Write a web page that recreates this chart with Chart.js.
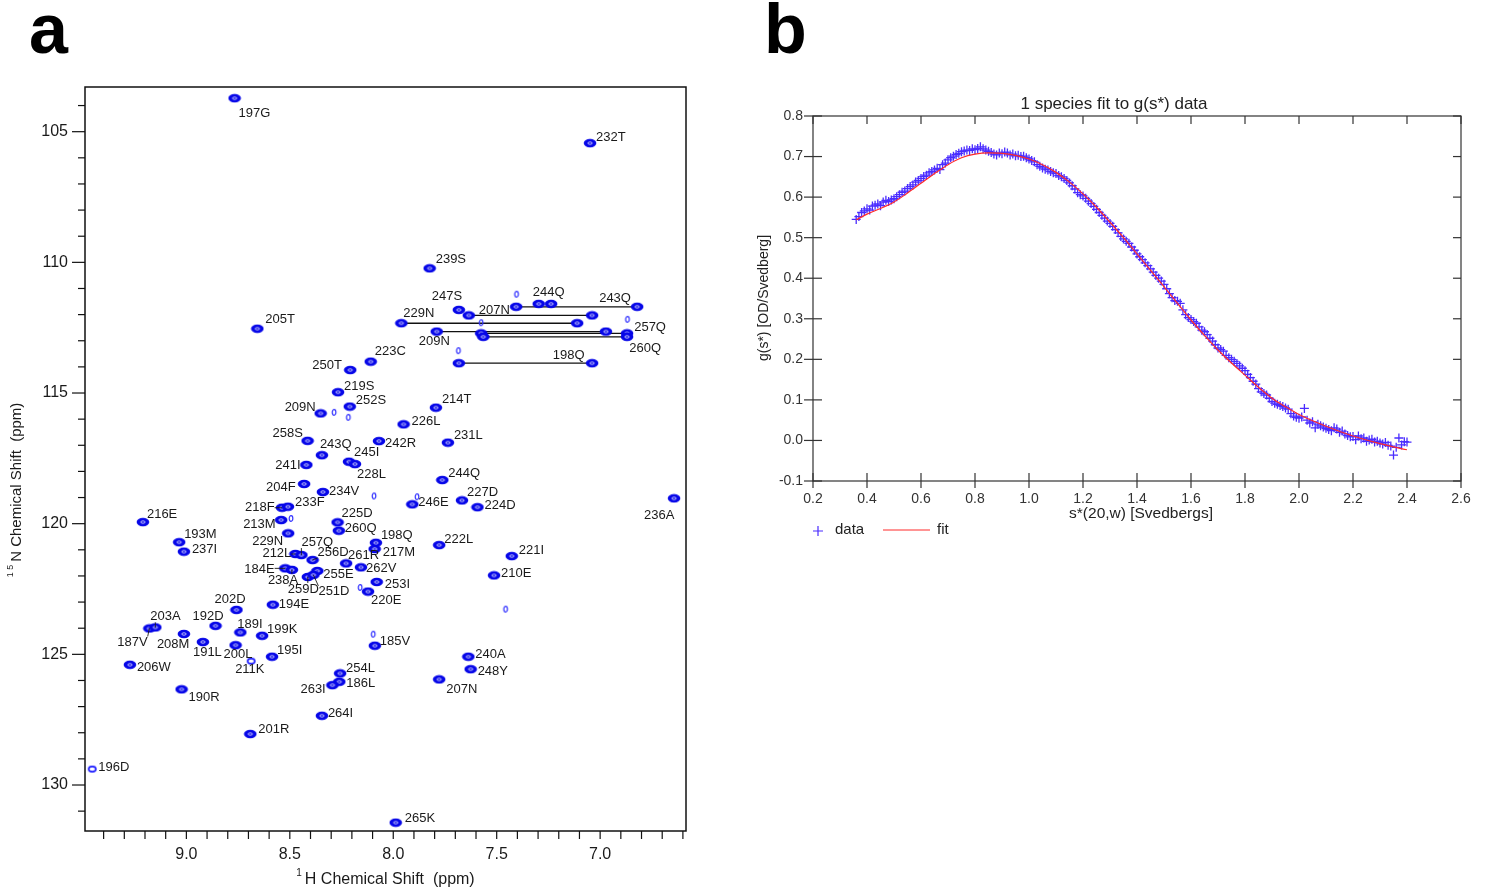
<!DOCTYPE html>
<html>
<head>
<meta charset="utf-8">
<script src="https://cdn.jsdelivr.net/npm/chart.js@4.4.1/dist/chart.umd.min.js"></script>
<style>
  html, body { margin: 0; padding: 0; background: #fff; }
  #wrap { position: relative; width: 1489px; height: 895px; overflow: hidden; }
  canvas { position: absolute; top: 0; }
  #nmr { left: 0; }
  #sed { left: 720px; }
</style>
</head>
<body>
<div id="wrap">
  <canvas id="nmr" width="720" height="895"></canvas>
  <canvas id="sed" width="769" height="895"></canvas>
</div>
<script>
var FONT = '"Liberation Sans", Arial, Helvetica, sans-serif';

// ---------- panel a : HSQC peaks (1H ppm, 15N ppm) ----------
var peakNames = ['197G','232T','239S','205T','247S','223C','250T','219S','252S','209N',
  '214T','226L','258S','242R','231L','243Q','245I','228L','241I','244Q',
  '204F','234V','246E','227D','224D','236A','218F','233F','216E','213M',
  '225D','260Q','193M','237I','229N','198Q','217M','222L','212L','257Q',
  '256D','261R','221I','262V','184E','238A','255E','259D','251D','210E',
  '253I','220E','194E','202D','187V','203A','192D','208M','189I','199K',
  '191L','200L','195I','211K','185V','206W','240A','248Y','254L','186L',
  '263I','207N','190R','264I','201R','196D','265K'];
var peakH = [8.767,7.049,7.824,8.657,7.683,8.109,8.208,8.267,8.210,8.351,
  7.794,7.950,8.414,8.069,7.736,8.345,8.214,8.185,8.420,7.763,
  8.431,8.340,7.908,7.668,7.593,6.643,8.538,8.509,9.210,8.542,
  8.269,8.263,9.035,9.012,8.508,8.084,8.090,7.778,8.473,8.444,
  8.390,8.228,7.427,8.156,8.522,8.490,8.367,8.413,8.386,7.513,
  8.080,8.122,8.582,8.758,9.179,9.150,8.859,9.012,8.739,8.634,
  8.920,8.762,8.586,8.687,8.089,9.273,7.637,7.626,8.257,8.261,
  8.294,7.778,9.023,8.345,8.691,9.455,7.988];
var peakN = [103.72,105.44,110.23,112.54,111.82,113.80,114.12,114.97,115.52,115.78,
  115.56,116.20,116.83,116.84,116.90,117.38,117.63,117.72,117.75,118.33,
  118.48,118.79,119.26,119.11,119.37,119.03,119.39,119.35,119.94,119.86,
  119.95,120.27,120.71,121.07,120.37,120.73,120.97,120.82,121.16,121.20,
  121.39,121.52,121.24,121.67,121.71,121.77,121.81,122.04,121.96,121.98,
  122.23,122.60,123.10,123.30,124.01,123.97,123.91,124.22,124.16,124.29,
  124.53,124.65,125.09,125.26,124.67,125.40,125.09,125.57,125.73,126.05,
  126.18,125.96,126.34,127.35,128.05,129.39,131.44];
var weakPeaks = ['196D', '211K'];

// side-chain NH2 pairs (same 15N, two 1H)
var scNames = ['244Q','243Q','207N','229N','209N','257Q','260Q','198Q'];
var scN  = [111.59, 111.70, 112.03, 112.33, 112.65, 112.72, 112.85, 113.86];
var scH1 = [7.297, 7.406, 7.635, 7.961, 7.790, 7.575, 7.565, 7.683];
var scH2 = [7.237, 6.821, 7.039, 7.111, 6.972, 6.870, 6.870, 7.039];
var scNoLine = ['244Q'];

// weak unassigned peaks
var extraH = [7.404, 7.575, 6.868, 7.685, 8.286, 8.217, 8.093, 7.885, 8.494, 7.457, 8.097, 8.160];
var extraN = [111.22, 112.31, 112.18, 113.38, 115.74, 115.93, 118.94, 118.97, 119.80, 123.27, 124.23, 122.44];

var xMajor = [9.0, 8.5, 8.0, 7.5, 7.0];
var yMajor = [105, 110, 115, 120, 125, 130];

// label placement, pixels from the peak centre
var labelDx = [4,6,6,8,-27,4,-38,6,6,-36, 6,8,-35,6,6,-2,5,2,-31,6,
  -38,6,6,5,7,-30,-37,7,4,-38, 4,6,5,8,-36,5,8,5,-33,0,
  5,2,7,5,-41,-24,6,-20,5,7, 8,3,6,-22,-32,-5,-23,-27,-3,5,
  -10,-12,5,-16,5,7,7,7,6,7, -32,7,7,6,8,6,9];
var labelDy = [15,-6,-9,-9,-13,-10,-5,-6,-6,-6, -8,-3,-7,2,-7,-11,-9,10,1,-7,
  3,-1,-2,-8,-2,17,0,-4,-8,4, -9,-2,-8,-2,8,-7,3,-6,-1,-13,
  -8,-8,-6,1,1,10,3,12,17,-2, 2,9,0,-10,14,-11,-9,10,-8,-6,
  10,9,-6,8,-4,3,-2,2,-5,2, 4,10,8,-2,-5,-2,-4];
var scLabelDx = [-6, 83, 10, 2, -18, 153, 146, 94];
var scLabelDy = [-11, -8, -5, -10, 10, -6, 12, -8];
var leaderNames = ['218F','212L','184E','187V','203A','257Q','256D','259D','251D','238A'];

// ---------- panel b : g(s*) data and fit ----------
var sData = [0.36,0.37,0.38,0.39,
  0.40,0.41,0.42,0.43,0.44,0.45,0.46,0.47,0.48,0.49,
  0.50,0.51,0.52,0.53,0.54,0.55,0.56,0.57,0.58,0.59,
  0.60,0.61,0.62,0.63,0.64,0.65,0.66,0.67,0.68,0.69,
  0.70,0.71,0.72,0.73,0.74,0.75,0.76,0.77,0.78,0.79,
  0.80,0.81,0.82,0.83,0.84,0.85,0.86,0.87,0.88,0.89,
  0.90,0.91,0.92,0.93,0.94,0.95,0.96,0.97,0.98,0.99,
  1.00,1.01,1.02,1.03,1.04,1.05,1.06,1.07,1.08,1.09,
  1.10,1.11,1.12,1.13,1.14,1.15,1.16,1.17,1.18,1.19,
  1.20,1.21,1.22,1.23,1.24,1.25,1.26,1.27,1.28,1.29,
  1.30,1.31,1.32,1.33,1.34,1.35,1.36,1.37,1.38,1.39,
  1.40,1.41,1.42,1.43,1.44,1.45,1.46,1.47,1.48,1.49,
  1.50,1.51,1.52,1.53,1.54,1.55,1.56,1.57,1.58,1.59,
  1.60,1.61,1.62,1.63,1.64,1.65,1.66,1.67,1.68,1.69,
  1.70,1.71,1.72,1.73,1.74,1.75,1.76,1.77,1.78,1.79,
  1.80,1.81,1.82,1.83,1.84,1.85,1.86,1.87,1.88,1.89,
  1.90,1.91,1.92,1.93,1.94,1.95,1.96,1.97,1.98,1.99,
  2.00,2.01,2.02,2.03,2.04,2.05,2.06,2.07,2.08,2.09,
  2.10,2.11,2.12,2.13,2.14,2.15,2.16,2.17,2.18,2.19,
  2.20,2.21,2.22,2.23,2.24,2.25,2.26,2.27,2.28,2.29,
  2.30,2.31,2.32,2.33,2.34,2.35,2.36,2.37,2.38,2.39,2.40];
var gData = [0.545,0.552,0.562,0.566,
  0.571,0.568,0.578,0.580,0.583,0.579,0.588,0.592,0.589,0.593,
  0.596,0.601,0.606,0.612,0.615,0.621,0.626,0.630,0.637,0.641,
  0.646,0.651,0.654,0.660,0.663,0.667,0.671,0.668,0.680,0.684,
  0.692,0.697,0.701,0.705,0.708,0.712,0.714,0.716,0.715,0.719,
  0.717,0.720,0.724,0.719,0.716,0.713,0.710,0.706,0.704,0.709,
  0.707,0.711,0.709,0.704,0.706,0.702,0.703,0.700,0.701,0.697,
  0.694,0.690,0.687,0.680,0.676,0.672,0.669,0.667,0.663,0.660,
  0.658,0.653,0.650,0.646,0.641,0.635,0.628,0.620,0.611,0.606,
  0.603,0.597,0.590,0.584,0.577,0.570,0.562,0.555,0.548,0.541,
  0.535,0.528,0.520,0.512,0.503,0.497,0.491,0.486,0.477,0.469,
  0.460,0.453,0.446,0.438,0.431,0.423,0.415,0.407,0.400,0.393,
  0.385,0.374,0.362,0.352,0.345,0.343,0.338,0.322,0.310,0.303,
  0.298,0.293,0.289,0.280,0.272,0.268,0.261,0.252,0.245,0.236,
  0.228,0.224,0.220,0.210,0.204,0.200,0.195,0.190,0.184,0.178,
  0.172,0.163,0.155,0.146,0.139,0.128,0.120,0.116,0.112,0.104,
  0.096,0.092,0.089,0.086,0.084,0.080,0.077,0.066,0.060,0.057,
  0.055,0.058,0.079,0.050,0.043,0.046,0.031,0.040,0.036,0.033,
  0.030,0.027,0.024,0.031,0.028,0.020,0.023,0.016,0.012,0.009,
  0.010,0.002,0.011,0.004,0.006,-0.002,0.001,0.003,-0.004,-0.002,
  -0.006,-0.009,-0.005,-0.012,-0.014,-0.036,-0.017,0.006,-0.011,-0.003,-0.004];
var sFit = [0.36,0.40,0.45,0.50,0.55,0.60,0.65,0.70,0.75,0.80,0.85,0.90,0.95,1.00,1.05,1.10,1.15,1.20,1.25,1.30,
  1.35,1.40,1.45,1.50,1.55,1.60,1.65,1.70,1.75,1.80,1.85,1.90,1.95,2.00,2.10,2.20,2.30,2.40];
var gFit = [0.544,0.558,0.572,0.588,0.610,0.634,0.658,0.680,0.697,0.706,0.709,0.708,0.703,0.694,0.680,0.661,0.637,0.608,0.575,0.538,
  0.500,0.460,0.420,0.379,0.338,0.297,0.259,0.223,0.191,0.161,0.131,0.104,0.083,0.064,0.035,0.011,-0.008,-0.023];
var bTicksX = [0.2,0.4,0.6,0.8,1.0,1.2,1.4,1.6,1.8,2.0,2.2,2.4,2.6];
var bTicksY = [-0.1,0.0,0.1,0.2,0.3,0.4,0.5,0.6,0.7,0.8];

// ---------- peak glyphs ----------
function makeGlyph(w, h, draw) {
  var c = document.createElement('canvas');
  c.width = w; c.height = h;
  draw(c.getContext('2d'));
  return c;
}
var peakImg = makeGlyph(14, 10, function(g) {
  g.fillStyle = '#0606e8';
  g.beginPath(); g.ellipse(7, 5, 6.3, 4.2, 0, 0, Math.PI * 2); g.fill();
  g.strokeStyle = 'rgba(255,255,255,0.9)'; g.lineWidth = 0.8;
  g.beginPath(); g.ellipse(7, 5, 2.2, 1.2, 0, 0, Math.PI * 2); g.stroke();
});
var ringImg = makeGlyph(11, 9, function(g) {
  g.strokeStyle = '#1a1aff'; g.lineWidth = 1.6;
  g.beginPath(); g.ellipse(5.5, 4.5, 3.6, 2.6, 0, 0, Math.PI * 2); g.stroke();
});
var smallImg = makeGlyph(8, 9, function(g) {
  g.strokeStyle = '#3030ff'; g.lineWidth = 1.2;
  g.beginPath(); g.ellipse(4, 4.5, 1.8, 2.8, 0, 0, Math.PI * 2); g.stroke();
});

function near(list, v) {
  return list.some(function(m) { return Math.abs(m - v) < 1e-6; });
}

function supTitle(ctx, sup, main, cx, cy, mainPx, supPx) {
  ctx.font = mainPx + 'px ' + FONT;
  var wm = ctx.measureText(main).width;
  ctx.font = supPx + 'px ' + FONT;
  var ws = ctx.measureText(sup).width;
  var x0 = cx - (ws + 3 + wm) / 2;
  ctx.textAlign = 'left';
  ctx.textBaseline = 'middle';
  ctx.fillText(sup, x0, cy - mainPx * 0.4);
  ctx.font = mainPx + 'px ' + FONT;
  ctx.fillText(main, x0 + ws + 3, cy);
}

// labels, frame and ticks of panel a
var nmrDecor = {
  id: 'nmrDecor',
  afterDatasetsDraw: function(chart) {
    var ctx = chart.ctx, xs = chart.scales.x, ys = chart.scales.y;
    ctx.save();
    ctx.font = '13px ' + FONT;
    ctx.fillStyle = '#1a1a1a';
    ctx.strokeStyle = '#1a1a1a';
    ctx.lineWidth = 0.9;
    ctx.textAlign = 'left';
    ctx.textBaseline = 'middle';
    for (var i = 0; i < peakNames.length; i++) {
      var px = xs.getPixelForValue(peakH[i]);
      var py = ys.getPixelForValue(peakN[i]);
      var lx = px + labelDx[i], ly = py + labelDy[i];
      ctx.fillText(peakNames[i], lx, ly);
      if (leaderNames.indexOf(peakNames[i]) >= 0) {
        var w = ctx.measureText(peakNames[i]).width;
        var cx = Math.min(Math.max(px, lx), lx + w);
        var cy = Math.min(Math.max(py, ly - 6), ly + 6);
        ctx.beginPath(); ctx.moveTo(cx, cy); ctx.lineTo(px, py); ctx.stroke();
      }
    }
    for (var j = 0; j < scNames.length; j++) {
      var qx = xs.getPixelForValue(scH1[j]);
      var qy = ys.getPixelForValue(scN[j]);
      ctx.fillText(scNames[j], qx + scLabelDx[j], qy + scLabelDy[j]);
    }
    ctx.restore();
  },
  afterDraw: function(chart) {
    var ctx = chart.ctx, a = chart.chartArea, xs = chart.scales.x, ys = chart.scales.y;
    ctx.save();
    ctx.strokeStyle = '#111';
    ctx.lineWidth = 1.5;
    ctx.strokeRect(a.left, a.top, a.right - a.left, a.bottom - a.top);
    ctx.lineWidth = 1.2;
    xs.ticks.forEach(function(t) {
      var p = xs.getPixelForValue(t.value);
      ctx.beginPath(); ctx.moveTo(p, a.bottom); ctx.lineTo(p, a.bottom + 8); ctx.stroke();
    });
    ys.ticks.forEach(function(t) {
      var p = ys.getPixelForValue(t.value);
      var len = near(yMajor, t.value) ? 13 : 7;
      ctx.beginPath(); ctx.moveTo(a.left, p); ctx.lineTo(a.left - len, p); ctx.stroke();
    });
    ctx.fillStyle = '#1a1a1a';
    supTitle(ctx, '1', 'H Chemical Shift  (ppm)', (a.left + a.right) / 2, 880, 16, 10);
    ctx.save();
    ctx.translate(17, 490);
    ctx.rotate(-Math.PI / 2);
    supTitle(ctx, '1 5', 'N Chemical Shift  (ppm)', 0, 0, 15, 9);
    ctx.restore();
    ctx.fillStyle = '#000';
    ctx.font = 'bold 70px ' + FONT;
    ctx.textAlign = 'left';
    ctx.textBaseline = 'alphabetic';
    ctx.fillText('a', 29, 53);
    ctx.restore();
  }
};

var nmrSets = [];
scNames.forEach(function(n, j) {
  if (scNoLine.indexOf(n) >= 0) return;
  nmrSets.push({
    data: [{ x: scH1[j], y: scN[j] }, { x: scH2[j], y: scN[j] }],
    showLine: true, borderColor: '#111', borderWidth: 1.3,
    pointRadius: 0, order: 3
  });
});
nmrSets.push({
  data: scNames.map(function(n, j) { return { x: scH1[j], y: scN[j] }; })
    .concat(scNames.map(function(n, j) { return { x: scH2[j], y: scN[j] }; })),
  pointStyle: peakImg, pointRadius: 4, order: 1
});
nmrSets.push({
  data: extraH.map(function(h, k) { return { x: h, y: extraN[k] }; }),
  pointStyle: smallImg, pointRadius: 3, order: 2
});
nmrSets.push({
  data: peakNames.map(function(n, i) { return { x: peakH[i], y: peakN[i] }; }),
  pointStyle: function(c) {
    return weakPeaks.indexOf(peakNames[c.dataIndex]) >= 0 ? ringImg : peakImg;
  },
  pointRadius: 4, order: 1
});

new Chart(document.getElementById('nmr'), {
  type: 'scatter',
  data: { datasets: nmrSets },
  options: {
    responsive: false, animation: false, events: [],
    layout: { padding: { top: 87, right: 34, bottom: 0, left: 0 } },
    plugins: { legend: { display: false }, tooltip: { enabled: false } },
    scales: {
      x: {
        type: 'linear', reverse: true, min: 6.585, max: 9.49,
        afterBuildTicks: function(s) {
          var t = [];
          for (var k = 66; k <= 94; k++) t.push({ value: k / 10 });
          s.ticks = t;
        },
        afterFit: function(s) { s.height = 64; },
        ticks: {
          autoSkip: false, maxRotation: 0, padding: 6, color: '#1a1a1a',
          font: { size: 16, family: FONT },
          callback: function(v) { return near(xMajor, v) ? v.toFixed(1) : ''; }
        },
        grid: { drawOnChartArea: false, drawTicks: true, tickLength: 8, color: 'rgba(0,0,0,0)' },
        border: { display: false }
      },
      y: {
        type: 'linear', reverse: true, min: 103.29, max: 131.76,
        afterBuildTicks: function(s) {
          var t = [];
          for (var k = 104; k <= 131; k++) t.push({ value: k });
          s.ticks = t;
        },
        afterFit: function(s) { s.width = 85; },
        ticks: {
          autoSkip: false, padding: 4, color: '#1a1a1a',
          font: { size: 16, family: FONT },
          callback: function(v) { return near(yMajor, v) ? String(v) : ''; }
        },
        grid: { drawOnChartArea: false, drawTicks: true, tickLength: 13, color: 'rgba(0,0,0,0)' },
        border: { display: false }
      }
    }
  },
  plugins: [nmrDecor]
});

// ---------- panel b ----------
var sedDecor = {
  id: 'sedDecor',
  afterDraw: function(chart) {
    var ctx = chart.ctx, a = chart.chartArea, xs = chart.scales.x, ys = chart.scales.y;
    ctx.save();
    ctx.strokeStyle = '#333';
    ctx.lineWidth = 1.2;
    ctx.strokeRect(a.left, a.top, a.right - a.left, a.bottom - a.top);
    bTicksX.forEach(function(v) {
      var p = xs.getPixelForValue(v);
      ctx.beginPath(); ctx.moveTo(p, a.bottom - 8); ctx.lineTo(p, a.bottom + 7); ctx.stroke();
      ctx.beginPath(); ctx.moveTo(p, a.top); ctx.lineTo(p, a.top + 8); ctx.stroke();
    });
    bTicksY.forEach(function(v) {
      var p = ys.getPixelForValue(v);
      ctx.beginPath(); ctx.moveTo(a.left - 9, p); ctx.lineTo(a.left + 9, p); ctx.stroke();
      ctx.beginPath(); ctx.moveTo(a.right, p); ctx.lineTo(a.right - 8, p); ctx.stroke();
    });
    ctx.fillStyle = '#222';
    ctx.textAlign = 'center';
    ctx.textBaseline = 'middle';
    ctx.font = '17px ' + FONT;
    ctx.fillText('1 species fit to g(s*) data', 394, 104);
    ctx.font = '15.5px ' + FONT;
    ctx.fillText('s*(20,w) [Svedbergs]', 421, 514);
    ctx.save();
    ctx.translate(44, 298);
    ctx.rotate(-Math.PI / 2);
    ctx.font = '14px ' + FONT;
    ctx.fillText('g(s*) [OD/Svedberg]', 0, 0);
    ctx.restore();
    // legend
    ctx.strokeStyle = '#4a2cff';
    ctx.lineWidth = 1.2;
    ctx.beginPath();
    ctx.moveTo(93, 531); ctx.lineTo(103, 531);
    ctx.moveTo(98, 526); ctx.lineTo(98, 536);
    ctx.stroke();
    ctx.strokeStyle = '#ff2a2a';
    ctx.lineWidth = 1;
    ctx.beginPath(); ctx.moveTo(163, 530); ctx.lineTo(210, 530); ctx.stroke();
    ctx.textAlign = 'left';
    ctx.font = '15px ' + FONT;
    ctx.fillText('data', 115, 530);
    ctx.fillText('fit', 217, 530);
    ctx.fillStyle = '#000';
    ctx.font = 'bold 70px ' + FONT;
    ctx.textBaseline = 'alphabetic';
    ctx.fillText('b', 44, 53);
    ctx.restore();
  }
};

new Chart(document.getElementById('sed'), {
  type: 'scatter',
  data: {
    datasets: [{
      data: sData.map(function(s, i) { return { x: s, y: gData[i] }; }),
      pointStyle: 'cross', pointRadius: 4.5, borderWidth: 1.3,
      borderColor: '#4a2cff', order: 2
    }, {
      data: sFit.map(function(s, i) { return { x: s, y: gFit[i] }; }),
      showLine: true, pointRadius: 0, borderColor: '#ff2a2a', borderWidth: 1.2,
      cubicInterpolationMode: 'monotone', order: 1
    }]
  },
  options: {
    responsive: false, animation: false, events: [],
    layout: { padding: { top: 116, right: 28, bottom: 374, left: 0 } },
    plugins: { legend: { display: false }, tooltip: { enabled: false } },
    scales: {
      x: {
        type: 'linear', min: 0.2, max: 2.6,
        afterBuildTicks: function(s) { s.ticks = bTicksX.map(function(v) { return { value: v }; }); },
        afterFit: function(s) { s.height = 40; },
        ticks: {
          autoSkip: false, maxRotation: 0, padding: 3, color: '#333',
          font: { size: 14, family: FONT },
          callback: function(v) { return v.toFixed(1); }
        },
        grid: { drawOnChartArea: false, drawTicks: true, tickLength: 7, color: 'rgba(0,0,0,0)' },
        border: { display: false }
      },
      y: {
        type: 'linear', min: -0.1, max: 0.8,
        afterBuildTicks: function(s) { s.ticks = bTicksY.map(function(v) { return { value: v }; }); },
        afterFit: function(s) { s.width = 93; },
        ticks: {
          autoSkip: false, padding: 1, color: '#333',
          font: { size: 14, family: FONT },
          callback: function(v) { return v.toFixed(1); }
        },
        grid: { drawOnChartArea: false, drawTicks: true, tickLength: 9, color: 'rgba(0,0,0,0)' },
        border: { display: false }
      }
    }
  },
  plugins: [sedDecor]
});
</script>
</body>
</html>
